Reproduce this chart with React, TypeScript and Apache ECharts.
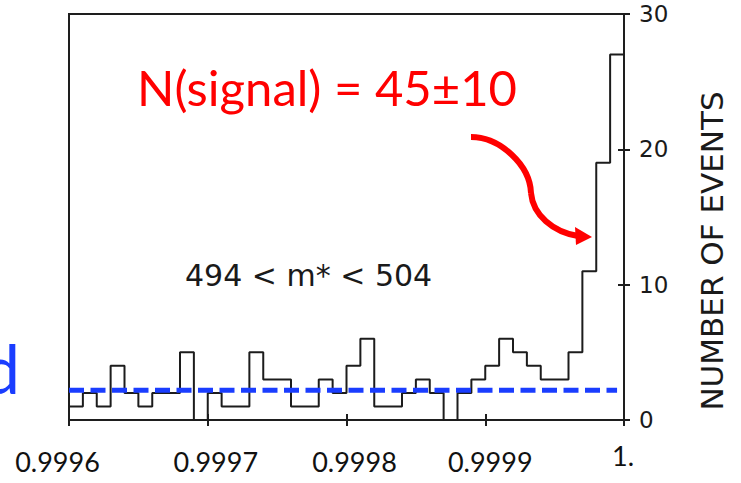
import React, { useEffect, useRef } from "react";
import * as echarts from "echarts";

// Histogram bins: 40 bins of width 0.00001 from 0.9996 to 1.0000
const xMin = 0.9996;
const xMax = 1.0;
const binWidth = 0.00001;
const binCounts = [
  1, 2, 1, 4, 2, 1, 2, 2, 5, 0,
  2, 1, 1, 5, 3, 3, 1, 1, 3, 2,
  4, 6, 1, 1, 2, 3, 2, 0, 2, 3,
  4, 6, 5, 4, 3, 3, 5, 11, 19, 27,
];
const backgroundLevel = 2.2;
const backgroundEnd = 0.999995;
const xTickLabels = ["0.9996", "0.9997", "0.9998", "0.9999", "1."];
const yTickLabels = ["0", "10", "20", "30"];
const signalText = "N(signal) = 45±10";
const cutText = "494 < m* < 504";
const backgroundText = "Background";
const yAxisTitle = "NUMBER OF EVENTS";

export default function App() {
  const ref = useRef<HTMLDivElement>(null);
  useEffect(() => {
    document.body.style.margin = "0";
    if (!ref.current) return;
    const chart = echarts.init(ref.current, null, { renderer: "svg" });

    const histData: number[][] = binCounts.map((c, i) => [xMin + i * binWidth, c]);
    histData.push([xMax, binCounts[binCounts.length - 1]]);

    const labelStyles: any = {
      a: { padding: [0, 23, 0, 0] },
      b: { padding: [0, 0, 0, 16] },
      c: { padding: [0, 0, 0, 16] },
      d: { padding: [0, 0, 0, 10] },
      e: { padding: [0, 2, 0, 0], lineHeight: 14 },
    };
    const keys = ["a", "b", "c", "d", "e"];

    const option: any = {
      animation: false,
      grid: {
        left: 69,
        right: 117,
        top: 14,
        bottom: 63,
        show: true,
        borderColor: "#1e1e1e",
        borderWidth: 2,
      },
      xAxis: [
        {
          type: "value",
          min: xMin,
          max: xMax,
          interval: 0.0001,
          position: "bottom",
          axisLine: { show: true, lineStyle: { color: "#1e1e1e", width: 2 } },
          axisTick: { show: true, length: 6, lineStyle: { color: "#1e1e1e", width: 2 } },
          splitLine: { show: false },
          axisLabel: {
            show: true,
            margin: 28,
            color: "#111",
            fontFamily: "Lato",
            fontSize: 27,
            formatter: (v: number) => {
              const i = Math.round((v - xMin) / 0.0001);
              return "{" + keys[i] + "|" + xTickLabels[i] + "}";
            },
            rich: labelStyles,
          },
        },
        {
          type: "value",
          min: xMin,
          max: xMax,
          interval: 0.0001,
          position: "bottom",
          axisLine: { show: false },
          axisTick: { show: true, inside: true, length: 6, lineStyle: { color: "#1e1e1e", width: 2 } },
          splitLine: { show: false },
          axisLabel: { show: false },
        },
      ],
      yAxis: [
        {
          type: "value",
          min: 0,
          max: 30,
          interval: 10,
          position: "right",
          axisLine: { show: true, lineStyle: { color: "#1e1e1e", width: 2 } },
          axisTick: { show: true, length: 6, lineStyle: { color: "#1e1e1e", width: 2 } },
          splitLine: { show: false },
          axisLabel: {
            margin: 15,
            color: "#1a1a1a",
            fontFamily: "DejaVu Sans",
            fontSize: 23,
            formatter: (v: number) => yTickLabels[Math.round(v / 10)],
          },
          name: yAxisTitle,
          nameLocation: "middle",
          nameRotate: 90,
          nameGap: 72,
          nameTextStyle: {
            color: "#1a1a1a",
            fontFamily: "DejaVu Sans",
            fontSize: 31,
            padding: [0, 68, 0, 0],
          },
        },
        {
          type: "value",
          min: 0,
          max: 30,
          interval: 10,
          position: "right",
          axisLine: { show: false },
          axisTick: { show: true, inside: true, length: 6, lineStyle: { color: "#1e1e1e", width: 2 } },
          splitLine: { show: false },
          axisLabel: { show: false },
        },
      ],
      series: [
        {
          type: "line",
          step: "end",
          data: histData,
          symbol: "none",
          lineStyle: { color: "#1c1c1c", width: 2 },
          z: 2,
        },
        {
          type: "line",
          data: [
            [xMin, backgroundLevel],
            [backgroundEnd, backgroundLevel],
          ],
          symbol: "none",
          lineStyle: { color: "#1a3dff", width: 5, type: [15, 6.5] },
          z: 3,
        },
      ],
      graphic: [
        {
          type: "text",
          x: 137,
          y: 87,
          style: {
            text: signalText,
            fill: "#ff0000",
            fontFamily: "Lato",
            fontSize: 49,
            align: "left",
            verticalAlign: "middle",
          },
        },
        {
          type: "text",
          x: 185,
          y: 275,
          style: {
            text: cutText,
            fill: "#1a1a1a",
            fontFamily: "DejaVu Sans",
            fontSize: 30,
            align: "left",
            verticalAlign: "middle",
          },
        },
        {
          type: "text",
          x: 20,
          y: 368,
          style: {
            text: backgroundText,
            fill: "#1a3dff",
            fontFamily: "Lato",
            fontSize: 67,
            align: "right",
            verticalAlign: "middle",
          },
        },
        {
          type: "bezierCurve",
          shape: { x1: 471, y1: 137, cpx1: 500, cpy1: 137, cpx2: 530, cpy2: 165, x2: 531, y2: 193 },
          style: { stroke: "#ff0000", lineWidth: 6, fill: null },
        },
        {
          type: "bezierCurve",
          shape: { x1: 531, y1: 193, cpx1: 533, cpy1: 215, cpx2: 553, cpy2: 232, x2: 578, y2: 236 },
          style: { stroke: "#ff0000", lineWidth: 6, fill: null },
        },
        {
          type: "polygon",
          shape: { points: [[575, 227], [592, 237], [576, 245]] },
          style: { fill: "#ff0000" },
        },
      ],
    };
    chart.setOption(option);
    return () => chart.dispose();
  }, []);
  return <div ref={ref} style={{ width: 741, height: 483 }} />;
}
